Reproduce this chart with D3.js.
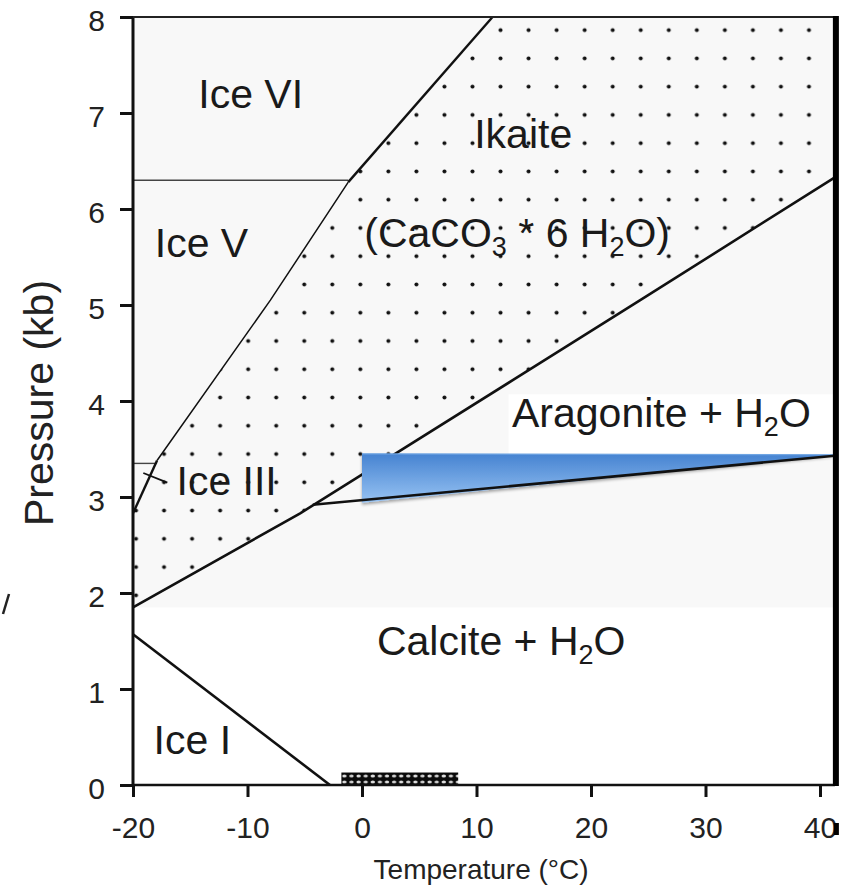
<!DOCTYPE html>
<html>
<head>
<meta charset="utf-8">
<script src="https://cdn.jsdelivr.net/npm/d3@7"></script>
<style>
  body { margin: 0; background: #fff; }
  svg { display: block; font-family: "Liberation Sans", Arial, Helvetica, sans-serif; }
</style>
</head>
<body>
<div id="chart"></div>
<script>
// axis ticks
const tempTicks = [-20, -10, 0, 10, 20, 30, 40];
const pressureTicks = [0, 1, 2, 3, 4, 5, 6, 7, 8];

// phase boundaries as [temperature (°C), pressure (kb)]
const iceVIIkaite = [[-1.2, 6.28], [11.4, 8]];
const iceVIceVI = [[-20, 6.3], [-1.2, 6.3]];
const iceVIkaite = [[-1.2, 6.28], [-8.0, 5.05], [-17.9, 3.38]];
const iceIIIIkaite = [[-17.9, 3.38], [-20, 2.83]];
const iceIIITop = [[-20, 3.35], [-17.9, 3.35]];
const ikaiteAragonite = [[-20, 1.85], [-5.4, 2.83], [13.2, 4.22], [24.3, 5.05], [41.3, 6.33]];
const calciteAragonite = [[-4.3, 2.92], [41.3, 3.43]];
const iceIBoundary = [[-20, 1.57], [-2.8, 0]];
const iceIIILeader = [[-19.1, 3.25], [-17.0, 3.15]];

// highlighted wedge and sample band
const wedge = [[0, 3.45], [0, 2.94], [41.6, 3.44]];
const sampleBand = { t0: -1.8, t1: 8.4, p0: 0, p1: 0.13 };

// field labels ("_" marks a subscript)
const regionLabels = [
  { parts: ["Ice VI"], t: -14.3, p: 7.05 },
  { parts: ["Ikaite"], t: 9.8, p: 6.64 },
  { parts: ["(CaCO", "_3", " * 6 H", "_2", "O)"], t: 0.2, p: 5.6 },
  { parts: ["Ice V"], t: -18.1, p: 5.5 },
  { parts: ["Ice III"], t: -16.2, p: 3.02 },
  { parts: ["Aragonite + H", "_2", "O"], t: 13.1, p: 3.73 },
  { parts: ["Calcite + H", "_2", "O"], t: 1.3, p: 1.35 },
  { parts: ["Ice I"], t: -18.2, p: 0.32 }
];

const T_MAX = 41.3;
const P_LOWER_SHADE = 1.85;

class PhaseDiagram {
  constructor(_parentElement) {
    this.parentElement = _parentElement;
    this.initVis();
  }

  initVis() {
    const vis = this;

    vis.WIDTH = 852;
    vis.HEIGHT = 888;

    vis.svg = d3.select(vis.parentElement)
      .append("svg")
      .attr("width", vis.WIDTH)
      .attr("height", vis.HEIGHT);

    vis.x = d3.scaleLinear().domain([-20, 40]).range([133, 820]);
    vis.y = d3.scaleLinear().domain([0, 8]).range([785, 17]);

    vis.line = d3.line()
      .x((d) => vis.x(d[0]))
      .y((d) => vis.y(d[1]));

    const defs = vis.svg.append("defs");

    const dots = defs.append("pattern")
      .attr("id", "dots")
      .attr("patternUnits", "userSpaceOnUse")
      .attr("x", 122)
      .attr("y", 16)
      .attr("width", 28.04)
      .attr("height", 28.26);
    dots.append("circle")
      .attr("cx", 14.02)
      .attr("cy", 14.13)
      .attr("r", 2)
      .attr("fill", "#111");

    const hatch = defs.append("pattern")
      .attr("id", "hatch")
      .attr("patternUnits", "userSpaceOnUse")
      .attr("x", 0)
      .attr("y", 773)
      .attr("width", 14.2)
      .attr("height", 6);
    hatch.append("rect").attr("width", 14.2).attr("height", 6).attr("fill", "#0a0a0a");
    hatch.append("ellipse").attr("cx", 3.6).attr("cy", 3).attr("rx", 2.2).attr("ry", 1.6).attr("fill", "#ddd");
    hatch.append("ellipse").attr("cx", 10.7).attr("cy", 3).attr("rx", 2.2).attr("ry", 1.6).attr("fill", "#ccc");

    const grad = defs.append("linearGradient")
      .attr("id", "wedgeGrad")
      .attr("x1", 0).attr("y1", 0).attr("x2", 0).attr("y2", 1);
    grad.append("stop").attr("offset", "0%").attr("stop-color", "#4683d1");
    grad.append("stop").attr("offset", "100%").attr("stop-color", "#97c3f3");

    const shadow = defs.append("filter")
      .attr("id", "shadow")
      .attr("x", "-5%").attr("y", "-20%").attr("width", "110%").attr("height", "160%");
    shadow.append("feDropShadow")
      .attr("dx", 0).attr("dy", 2).attr("stdDeviation", 1.5)
      .attr("flood-color", "#000").attr("flood-opacity", 0.35);

    vis.drawFields();
    vis.drawBoundaries();
    vis.drawAxes();
    vis.drawLabels();
  }

  drawFields() {
    const vis = this;

    // light grey upper field
    vis.svg.append("rect")
      .attr("x", vis.x(-20))
      .attr("y", vis.y(8))
      .attr("width", vis.x(T_MAX) - vis.x(-20))
      .attr("height", vis.y(P_LOWER_SHADE) - vis.y(8))
      .attr("fill", "#f8f8f8");

    // ikaite stability field, dotted
    const ikaite = ikaiteAragonite.concat(
      [[T_MAX, 8]],
      iceVIIkaite.slice().reverse(),
      iceVIkaite.slice(1),
      [iceIIIIkaite[1]]
    );
    vis.svg.append("path")
      .attr("d", vis.line(ikaite) + "Z")
      .attr("fill", "url(#dots)");

    // white box behind the aragonite label
    vis.svg.append("rect")
      .attr("x", vis.x(12.8))
      .attr("y", vis.y(4.07))
      .attr("width", vis.x(T_MAX) - vis.x(12.8) - 2)
      .attr("height", vis.y(3.45) - vis.y(4.07))
      .attr("fill", "#fff");

    // sample band on the temperature axis
    vis.svg.append("rect")
      .attr("x", vis.x(sampleBand.t0))
      .attr("y", vis.y(sampleBand.p1))
      .attr("width", vis.x(sampleBand.t1) - vis.x(sampleBand.t0))
      .attr("height", vis.y(sampleBand.p0) - vis.y(sampleBand.p1))
      .attr("fill", "url(#hatch)");
  }

  drawBoundaries() {
    const vis = this;

    const bounds = [
      { pts: iceVIceVI, w: 1.4, c: "#444" },
      { pts: iceIIITop, w: 1.4, c: "#444" },
      { pts: iceVIkaite, w: 1.5, c: "#111" },
      { pts: iceVIIkaite, w: 2.4, c: "#111" },
      { pts: iceIIIIkaite, w: 2.4, c: "#111" },
      { pts: iceIIILeader, w: 1.8, c: "#111" },
      { pts: ikaiteAragonite, w: 2.6, c: "#111" },
      { pts: iceIBoundary, w: 2.6, c: "#111" }
    ];

    vis.svg.selectAll(".boundary")
      .data(bounds)
      .enter()
      .append("path")
      .attr("class", "boundary")
      .attr("d", (d) => vis.line(d.pts))
      .attr("fill", "none")
      .attr("stroke", (d) => d.c)
      .attr("stroke-width", (d) => d.w);

    // blue wedge over the calcite/aragonite boundary
    vis.svg.append("path")
      .attr("d", vis.line(wedge) + "Z")
      .attr("fill", "url(#wedgeGrad)")
      .attr("filter", "url(#shadow)");
    vis.svg.append("path")
      .attr("d", vis.line(wedge.filter((d, i) => i !== 1)))
      .attr("fill", "none")
      .attr("stroke", "#6fa5e3")
      .attr("stroke-width", 1.2);

    vis.svg.append("path")
      .attr("d", vis.line(calciteAragonite))
      .attr("fill", "none")
      .attr("stroke", "#111")
      .attr("stroke-width", 2.6);
  }

  drawAxes() {
    const vis = this;

    const xAxis = d3.axisBottom(vis.x)
      .tickValues(tempTicks)
      .tickSize(12)
      .tickSizeOuter(0)
      .tickPadding(20)
      .tickFormat((d) => String(d));

    const yAxis = d3.axisLeft(vis.y)
      .tickValues(pressureTicks)
      .tickSize(13)
      .tickSizeOuter(0)
      .tickPadding(15)
      .tickFormat((d) => String(d));

    const gx = vis.svg.append("g")
      .attr("transform", `translate(0, ${vis.y(0)})`)
      .call(xAxis);
    gx.select(".domain").remove();
    gx.selectAll("line").attr("stroke", "#111").attr("stroke-width", 3);
    gx.selectAll("text")
      .attr("font-size", "30px")
      .attr("fill", "#222")
      .attr("font-family", "Liberation Sans, Arial, sans-serif");

    const gy = vis.svg.append("g")
      .attr("transform", `translate(${vis.x(-20)}, 0)`)
      .call(yAxis);
    gy.select(".domain").remove();
    gy.selectAll("line").attr("stroke", "#111").attr("stroke-width", 3);
    gy.selectAll("text")
      .attr("font-size", "30px")
      .attr("fill", "#222")
      .attr("dy", "0.45em")
      .attr("font-family", "Liberation Sans, Arial, sans-serif");

    // frame: left axis, top, bottom and the heavy right edge
    vis.svg.append("line")
      .attr("x1", vis.x(-20)).attr("x2", vis.x(-20))
      .attr("y1", vis.y(8)).attr("y2", vis.y(0) + 1.5)
      .attr("stroke", "#111").attr("stroke-width", 3);
    vis.svg.append("line")
      .attr("x1", vis.x(-20)).attr("x2", vis.x(T_MAX))
      .attr("y1", vis.y(8)).attr("y2", vis.y(8))
      .attr("stroke", "#222").attr("stroke-width", 2.2);
    vis.svg.append("line")
      .attr("x1", vis.x(-20)).attr("x2", vis.x(T_MAX))
      .attr("y1", vis.y(0)).attr("y2", vis.y(0))
      .attr("stroke", "#111").attr("stroke-width", 2.6);
    vis.svg.append("rect")
      .attr("x", vis.x(T_MAX) - 2)
      .attr("y", vis.y(8) - 1)
      .attr("width", 6)
      .attr("height", vis.y(0) - vis.y(8) + 2)
      .attr("fill", "#000");
    vis.svg.append("rect")
      .attr("x", vis.x(T_MAX) - 1)
      .attr("y", vis.y(0) + 38)
      .attr("width", 5)
      .attr("height", 12)
      .attr("fill", "#000");

    // axis titles
    vis.svg.append("text")
      .attr("transform", `translate(53, ${vis.y(4) + 2}) rotate(-90)`)
      .attr("text-anchor", "middle")
      .attr("font-size", "41px")
      .attr("fill", "#222")
      .text("Pressure (kb)");

    vis.svg.append("text")
      .attr("x", vis.x(10.4))
      .attr("y", 879)
      .attr("text-anchor", "middle")
      .attr("font-size", "28px")
      .attr("fill", "#222")
      .text("Temperature (°C)");

    // stray mark at the left edge
    vis.svg.append("path")
      .attr("d", "M9,594 L3,614")
      .attr("stroke", "#222")
      .attr("stroke-width", 2.5);
  }

  drawLabels() {
    const vis = this;

    const labels = vis.svg.selectAll(".region-label")
      .data(regionLabels)
      .enter()
      .append("text")
      .attr("class", "region-label")
      .attr("x", (d) => vis.x(d.t))
      .attr("y", (d) => vis.y(d.p))
      .attr("font-size", "41px")
      .attr("fill", "#1a1a1a");

    labels.each(function (d) {
      const el = d3.select(this);
      let shifted = false;
      d.parts.forEach((part) => {
        if (part.startsWith("_")) {
          el.append("tspan")
            .attr("dy", 9)
            .attr("font-size", "27px")
            .text(part.slice(1));
          shifted = true;
        } else {
          el.append("tspan")
            .attr("dy", shifted ? -9 : 0)
            .text(part);
          shifted = false;
        }
      });
    });
  }
}

new PhaseDiagram("#chart");
</script>
</body>
</html>
